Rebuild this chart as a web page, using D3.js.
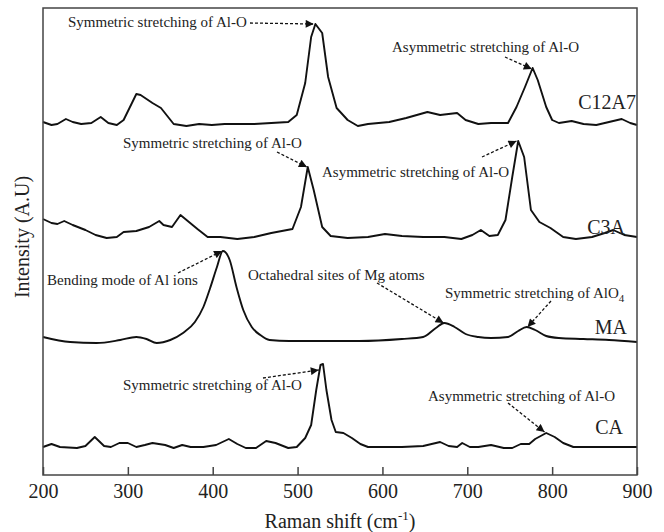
<!DOCTYPE html>
<html>
<head>
<meta charset="utf-8">
<script src="https://cdn.jsdelivr.net/npm/d3@7"></script>
<style>
  body { margin: 0; background: #fff; }
  text { font-family: "Liberation Serif", "DejaVu Serif", serif; fill: #222; }
</style>
</head>
<body>
<div id="canvas"></div>
<script>
"use strict";

/* ===============================
   Data: Raman spectra, [shift (cm-1), intensity (a.u.)] */
let c12a7 = [
  [200, 3], [210, 0], [217, 1], [227, 6], [235, 3], [245, 1], [257, 2], [268, 8],
  [277, 2], [287, 0], [295, 5], [310, 31], [315, 30], [329, 22], [339, 17], [354, 1],
  [369, -1], [384, 1], [399, 0], [414, 1], [429, 1], [449, 1], [469, 2], [489, 3],
  [499, 10], [509, 42], [516, 88], [521, 101], [529, 92], [536, 48], [546, 17],
  [559, 5], [571, -1], [583, 1], [608, 3], [628, 7], [653, 13], [668, 10], [688, 12],
  [698, 5], [713, 1], [728, 2], [748, 2], [758, 18], [768, 38], [777, 57], [783, 45],
  [793, 18], [800, 5], [808, 2], [823, 4], [837, 1], [852, 0], [867, 3], [882, 6],
  [892, 2], [900, 0]
];

let c3a = [
  [200, 21], [210, 17], [217, 16], [225, 19], [235, 15], [250, 10], [262, 5], [275, 2],
  [287, 3], [295, 8], [310, 9], [325, 13], [337, 19], [342, 15], [352, 13], [362, 25],
  [372, 18], [382, 11], [394, 3], [409, 3], [429, 1], [449, 3], [469, 7], [494, 11],
  [504, 33], [512, 73], [519, 50], [529, 13], [539, 4], [559, 2], [583, 3], [603, 6],
  [623, 4], [648, 3], [673, 3], [693, 1], [706, 5], [716, 10], [726, 4], [736, 5],
  [745, 20], [753, 63], [760, 99], [767, 83], [775, 30], [785, 18], [798, 12],
  [813, 3], [828, 1], [847, 3], [862, 7], [872, 10], [885, 5], [900, 3]
];

let ma = [
  [200, 5], [232, 0], [263, -1], [291, 2], [310, 5], [322, 3], [334, -1], [350, 2],
  [365, 9], [379, 20], [389, 35], [397, 54], [405, 75], [412, 91], [420, 82],
  [428, 55], [436, 32], [446, 15], [456, 7], [467, 2], [490, 1], [529, 1], [573, 1],
  [623, 3], [648, 5], [663, 14], [673, 19], [685, 15], [698, 8], [713, 5], [728, 4],
  [748, 5], [760, 11], [770, 15], [780, 12], [793, 6], [808, 4], [837, 3], [867, 2],
  [900, 0]
];

let ca = [
  [200, 3], [210, 6], [220, 3], [240, 2], [250, 4], [261, 13], [272, 4], [280, 3],
  [290, 7], [300, 7], [310, 3], [320, 5], [329, 7], [344, 5], [354, 2], [364, 5],
  [374, 3], [389, 3], [404, 5], [419, 11], [429, 6], [439, 2], [451, 2], [463, 9],
  [474, 7], [489, 2], [499, 3], [509, 12], [516, 25], [522, 60], [527, 85], [530, 86],
  [534, 60], [540, 30], [545, 18], [554, 17], [564, 12], [574, 6], [583, 3], [623, 3],
  [648, 4], [668, 8], [678, 4], [688, 3], [694, 7], [703, 3], [713, 3], [728, 5],
  [743, 2], [753, 2], [763, 6], [773, 6], [780, 11], [793, 17], [803, 13], [813, 7],
  [825, 3], [847, 3], [872, 3], [900, 3]
];

let seriesNames = ["C12A7", "C3A", "MA", "CA"];
let seriesData = [c12a7, c3a, ma, ca];
let seriesOffsets = [350, 235, 133, 25];
let xTicks = [200, 300, 400, 500, 600, 700, 800, 900];

/* ===============================
   Configuration */
let svgWidth = 664;
let svgHeight = 532;
let plotLeft = 43;
let plotRight = 637;
let plotTop = 8;
let plotBottom = 475;

let svg = d3.select("#canvas")
  .append("svg")
  .attr("width", svgWidth)
  .attr("height", svgHeight);

let xScale = d3.scaleLinear()
  .domain([200, 900])
  .range([plotLeft, plotRight]);

let yScale = d3.scaleLinear()
  .domain([0, plotBottom - plotTop])
  .range([plotBottom, plotTop]);

/* arrowhead */
svg.append("defs").append("marker")
  .attr("id", "head")
  .attr("viewBox", "0 0 10 10")
  .attr("refX", 10)
  .attr("refY", 5)
  .attr("markerUnits", "userSpaceOnUse")
  .attr("markerWidth", 10)
  .attr("markerHeight", 8)
  .attr("orient", "auto")
  .append("path")
  .attr("d", "M0,0 L10,5 L0,10 Z")
  .attr("fill", "#111");

/* spectra */
for (let i = 0; i < seriesData.length; i = i + 1) {
  let off = seriesOffsets[i];
  let line = d3.line()
    .x(function (d) { return xScale(d[0]); })
    .y(function (d) { return yScale(d[1] + off); })
    .curve(i === 2 ? d3.curveMonotoneX : d3.curveLinear);

  svg.append("path")
    .datum(seriesData[i])
    .attr("d", line)
    .attr("fill", "none")
    .attr("stroke", "#111")
    .attr("stroke-width", 1.9)
    .attr("stroke-linejoin", "round");
}

/* series labels */
let labelPos = [
  { right: 636, cy: 102 },
  { right: 625, cy: 227 },
  { right: 627, cy: 327 },
  { right: 623, cy: 427 }
];
for (let i = 0; i < seriesNames.length; i = i + 1) {
  svg.append("text")
    .attr("x", labelPos[i].right)
    .attr("y", labelPos[i].cy + 7)
    .attr("text-anchor", "end")
    .attr("font-size", 20)
    .text(seriesNames[i]);
}

/* annotations: text at pixel spot, arrow to a point on a spectrum */
let notes = [
  { text: "Symmetric stretching of Al-O", tx: 68, ty: 27, sx: 250, sy: 23, s: 0, at: [519, 101] },
  { text: "Asymmetric stretching of Al-O", tx: 392, ty: 52, sx: 505, sy: 57, s: 0, at: [776, 56] },
  { text: "Symmetric stretching of Al-O", tx: 123, ty: 148, sx: 277, sy: 152, s: 1, at: [511, 73] },
  { text: "Asymmetric stretching of Al-O", tx: 322, ty: 177, sx: 482, sy: 157, s: 1, at: [758, 99] },
  { text: "Bending mode of Al ions", tx: 47, ty: 285, sx: 178, sy: 273, s: 2, at: [411, 91] },
  { text: "Octahedral sites of Mg atoms", tx: 248, ty: 280, sx: 377, sy: 283, s: 2, at: [672, 19] },
  { text: "Symmetric stretching of AlO", sub: "4", tx: 445, ty: 298, sx: 551, sy: 301, s: 2, at: [771, 15] },
  { text: "Symmetric stretching of Al-O", tx: 123, ty: 390, sx: 263, sy: 378, s: 3, at: [525, 80] },
  { text: "Asymmetric stretching of Al-O", tx: 428, ty: 401, sx: 508, sy: 403, s: 3, at: [791, 18] }
];

notes.forEach(function (n) {
  let t = svg.append("text")
    .attr("x", n.tx)
    .attr("y", n.ty)
    .attr("font-size", 15)
    .text(n.text);
  if (n.sub) {
    t.append("tspan")
      .attr("dy", 4)
      .attr("font-size", 11)
      .text(n.sub);
  }
  svg.append("line")
    .attr("x1", n.sx)
    .attr("y1", n.sy)
    .attr("x2", xScale(n.at[0]))
    .attr("y2", yScale(n.at[1] + seriesOffsets[n.s]))
    .attr("stroke", "#111")
    .attr("stroke-width", 1.3)
    .attr("stroke-dasharray", "3,2")
    .attr("marker-end", "url(#head)");
});

/* frame */
svg.append("rect")
  .attr("x", plotLeft)
  .attr("y", plotTop)
  .attr("width", plotRight - plotLeft)
  .attr("height", plotBottom - plotTop)
  .attr("fill", "none")
  .attr("stroke", "#444")
  .attr("stroke-width", 1.5);

/* x axis, ticks inward */
let xAxis = svg.append("g")
  .attr("transform", "translate(0," + plotBottom + ")")
  .call(d3.axisBottom(xScale).tickValues(xTicks).tickSizeInner(-8).tickSizeOuter(0).tickPadding(9));

xAxis.select(".domain").remove();
xAxis.selectAll(".tick line").attr("stroke", "#444").attr("stroke-width", 1.5);
xAxis.selectAll(".tick text")
  .attr("font-size", 20)
  .attr("font-family", "Liberation Serif")
  .attr("fill", "#222");

/* axis titles */
let xTitle = svg.append("text")
  .attr("x", (plotLeft + plotRight) / 2)
  .attr("y", 528)
  .attr("text-anchor", "middle")
  .attr("font-size", 20)
  .text("Raman shift (cm");
xTitle.append("tspan").attr("dy", -8).attr("font-size", 13).text("-1");
xTitle.append("tspan").attr("dy", 8).text(")");

svg.append("text")
  .attr("transform", "translate(29,237) rotate(-90)")
  .attr("text-anchor", "middle")
  .attr("font-size", 20)
  .text("Intensity (A.U)");
</script>
</body>
</html>
